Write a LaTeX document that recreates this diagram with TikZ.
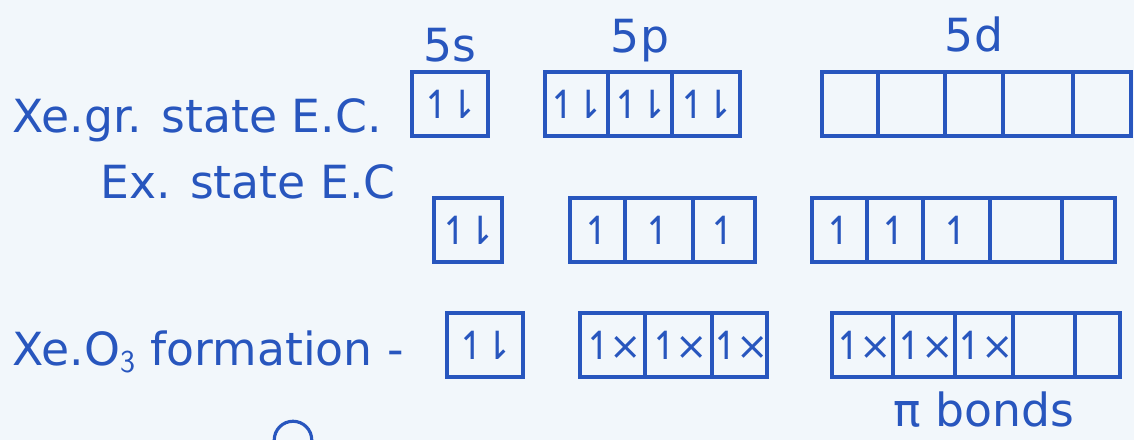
\documentclass[tikz,border=0pt]{standalone}
\usepackage{amsmath,amssymb}
\usepackage{fontspec}
\setmainfont{DejaVu Sans}
\usepackage{tikz}
\usetikzlibrary{positioning}
\definecolor{pen}{RGB}{40,86,190}
\definecolor{paper}{RGB}{242,247,251}
\newcommand{\pairup}{\makebox[0pt]{↿\kern-.2em⇂}}
\newcommand{\oneup}{\makebox[0pt]{↿}}
\newcommand{\upcross}{\makebox[0pt]{↿\kern-.15em×}}
\tikzset{
  orbital/.style={draw=pen,line width=2pt,minimum height=1.28cm,inner sep=0pt,
    outer sep=0pt,text=pen,font=\fontsize{22}{24}\selectfont},
  hand/.style={text=pen,font=\fontsize{26}{28}\selectfont,inner sep=0pt},
  blob/.style={draw=pen,line width=1.8pt,circle,minimum size=0.75cm,inner sep=0pt}
}
\begin{document}
\begin{tikzpicture}[x=0.02cm,y=-0.02cm]
  \fill[paper] (0,0) rectangle (1134,440);
  \useasboundingbox (0,0) rectangle (1134,440);
  % row labels
  \node[hand,anchor=west] (gr) at (12,120) {Xe.gr. state E.C.};
  \node[hand,anchor=west] (ex) at (100,182) {Ex. state E.C};
  \node[hand,anchor=west] (form) at (12,352) {Xe.O$_{\mathsf{3}}$ formation -};
  % ground state
  \foreach \n/\l/\r/\t in {gs/412/488/\pairup,
      gpa/545/608/\pairup,gpb/608/672/\pairup,gpc/672/740/\pairup,
      gda/822/878/,gdb/878/945/,gdc/945/1003/,gdd/1003/1073/,gde/1073/1131/}
    \node[orbital,minimum width={(\r-\l)*0.02cm}] (\n) at ({(\l+\r)/2},104) {\t};
  % excited state
  \foreach \n/\l/\r/\t in {es/434/502/\pairup,
      epa/570/625/\oneup,epb/625/693/\oneup,epc/693/755/\oneup,
      eda/812/867/\oneup,edb/867/923/\oneup,edc/923/990/\oneup,edd/990/1062/,ede/1062/1115/}
    \node[orbital,minimum width={(\r-\l)*0.02cm}] (\n) at ({(\l+\r)/2},230) {\t};
  % XeO3
  \foreach \n/\l/\r/\t in {fs/447/523/\pairup,
      fpa/580/645/\upcross,fpb/645/712/\upcross,fpc/712/767/\upcross,
      fda/832/893/\upcross,fdb/893/955/\upcross,fdc/955/1013/\upcross,fdd/1013/1075/,fde/1075/1120/}
    \node[orbital,minimum width={(\r-\l)*0.02cm}] (\n) at ({(\l+\r)/2},345) {\t};
  % subshell labels
  \node[hand] (ss) [above=0.2cm of gs] {5s};
  \node[hand] (sp) [above=0.2cm of gpb] {5p};
  \node[hand] (sd) [above=0.4cm of gdc] {5d};
  \node[hand] (pib) [below=0.28cm of fdc] {π bonds};
  \node[blob] (mark) at (293,440) {};
\end{tikzpicture}
\end{document}
